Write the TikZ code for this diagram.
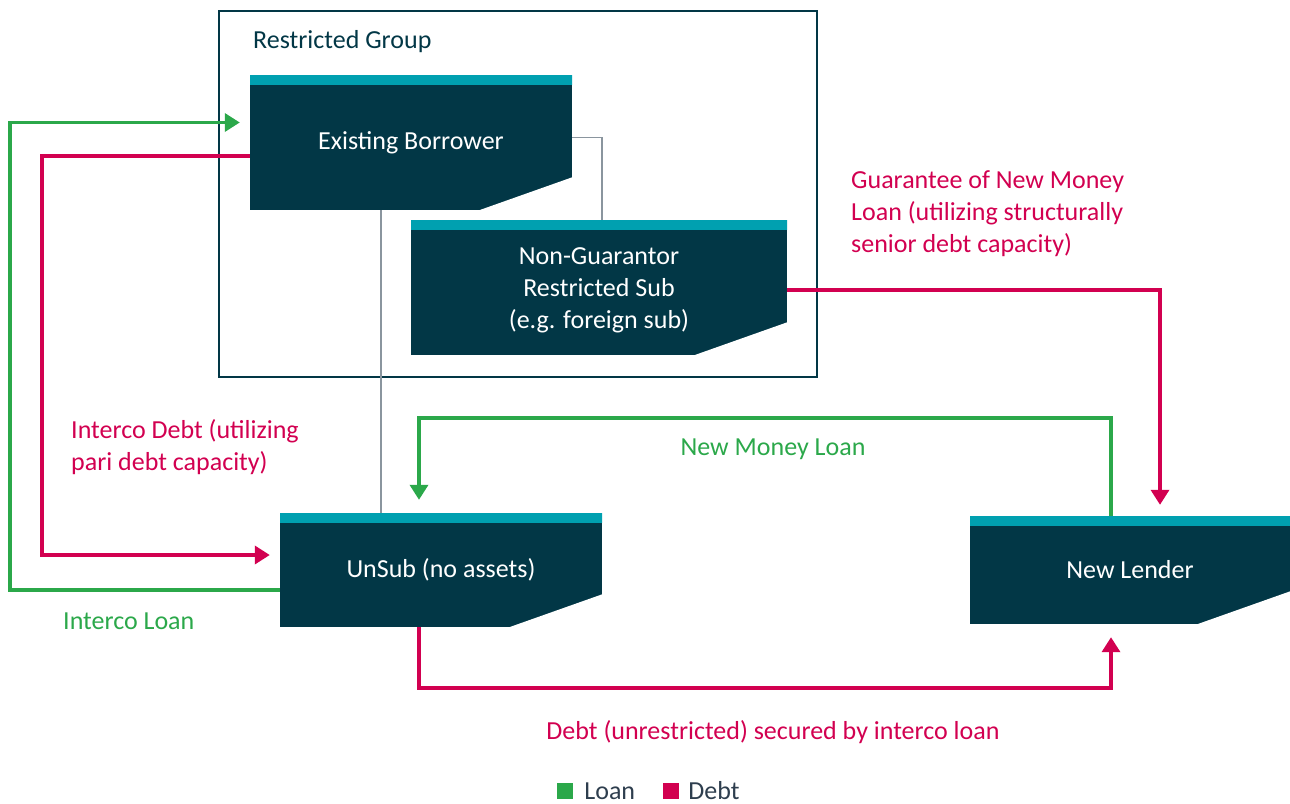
\documentclass[tikz,border=0pt]{standalone}
\usepackage{fontspec}
\setmainfont{Carlito}
\usetikzlibrary{arrows.meta,positioning}
\definecolor{navy}{HTML}{023746}
\definecolor{barteal}{HTML}{00A0B0}
\definecolor{loangreen}{HTML}{2BA84A}
\definecolor{debtred}{HTML}{D20050}
\definecolor{keytext}{HTML}{2E3E4E}
\definecolor{linkgray}{HTML}{8A959E}

\begin{document}
\begin{tikzpicture}[x=1pt, y=-1pt, font=\fontsize{26}{32}\selectfont,
  entity/.style = {fill=navy, text=white, align=center, inner sep=0pt,
    path picture={
      \fill[barteal] ([shift={(-1pt,1pt)}]path picture bounding box.north west) rectangle ([shift={(1pt,-10pt)}]path picture bounding box.north east);
      \fill[white] ([shift={(1pt,33pt)}]path picture bounding box.south east) -- ([shift={(1pt,-1pt)}]path picture bounding box.south east) -- ([shift={(-95pt,-1pt)}]path picture bounding box.south east) -- cycle;}},
  loanarrow/.style = {draw=loangreen, line width=3.5pt, -{Triangle[length=15pt,width=18pt]}},
  debtarrow/.style = {draw=debtred, line width=3.5pt, -{Triangle[length=15pt,width=18pt]}},
  link/.style = {draw=linkgray, line width=1.5pt},
  keybox/.style = {minimum size=16pt, inner sep=0pt}]
\useasboundingbox (0,0) rectangle (1290,803);

% restricted group frame
\node[draw=navy, line width=1.5pt, minimum width=598pt, minimum height=366pt, inner sep=0pt] (g) at (518,194) {};
\node[anchor=west, text=navy, inner sep=0pt] (gl) at (253,42) {Restricted Group};

% entities
\node[entity, minimum width=322pt, minimum height=135pt] (1) at (411,142.5) {Existing Borrower};
\node[entity, minimum width=376pt, minimum height=135pt] (2) at (599,287.5) {\strut Non-Guarantor\\Restricted Sub\\(e.g. foreign sub)};
\node[entity, minimum width=322pt, minimum height=114pt] (3) at (441,570) {UnSub (no assets)};
\node[entity, minimum width=320pt, minimum height=108pt] (4) at (1130,570) {New Lender};

% ownership links
\draw[link] ([yshift=5pt]1.east) -| ([xshift=3pt]2.north);
\draw[link] ([xshift=-30pt]1.south) -- ([xshift=-30pt]1.south |- 3.north);

% flows
\draw[loanarrow, shorten >=10pt] ([yshift=-20pt]3.west) -- ++(-270,0) |- ([yshift=20pt]1.west);
\draw[debtarrow, shorten >=10pt] ([yshift=-13.5pt]1.west) -- ++(-208,0) |- ([yshift=15pt]3.west);
\draw[debtarrow, shorten >=11pt] ([yshift=-2.5pt]2.east) -| ([xshift=30pt]4.north);
\draw[loanarrow, shorten >=13pt] ([xshift=-19pt]4.north) -- ++(0,-98) -| ([xshift=-22pt]3.north);
\draw[debtarrow, shorten >=13pt] ([xshift=-22pt]3.south) -- ++(0,61) -| ([xshift=-19pt]4.south);

% labels
\node[anchor=west, text=debtred, align=left, inner sep=0pt] (l1) at (71,447) {Interco Debt (utilizing\\pari debt capacity)};
\node[anchor=west, text=loangreen, inner sep=0pt] (l2) at (63,621) {Interco Loan};
\node[anchor=west, text=debtred, align=left, inner sep=0pt] (l3) at (851,214) {Guarantee of New Money\\Loan (utilizing structurally\\senior debt capacity)};
\node[text=loangreen, inner sep=0pt] (l4) at (773,449) {New Money Loan};
\node[text=debtred, inner sep=0pt] (l5) at (773,732) {Debt (unrestricted) secured by interco loan};

% key
\node[keybox, fill=loangreen] (k1) at (565,791) {};
\node[right=11pt of k1, text=keytext, inner sep=0pt] (k2) {Loan};
\node[keybox, fill=debtred] (k3) at (671,791) {};
\node[right=9pt of k3, text=keytext, inner sep=0pt] (k4) {Debt};
\end{tikzpicture}
\end{document}
